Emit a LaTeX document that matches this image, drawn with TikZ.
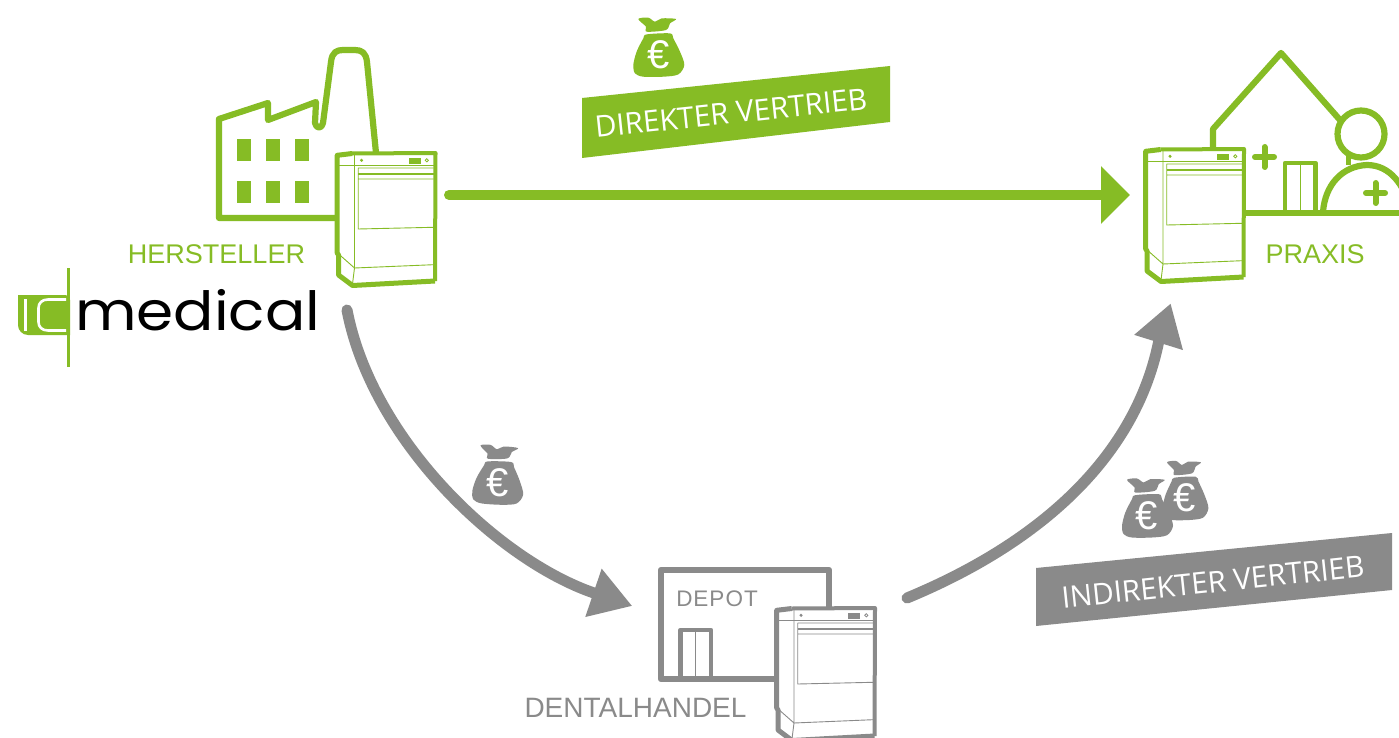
\documentclass[tikz,border=0pt]{standalone}
\usepackage{fontspec}
\setmainfont{Liberation Sans}
\newfontfamily\bannerfont{Open Sans}
\newfontfamily\logofont{Poppins}
\usetikzlibrary{arrows.meta,bending}
\definecolor{vgreen}{HTML}{86BC25}
\definecolor{vgray}{HTML}{8A8A8A}
\tikzset{
  x=1pt,y=-1pt,
  labeltext/.style={inner sep=0pt,font=\fontsize{27}{27}\selectfont},
  bannertext/.style={inner sep=0pt,text=white,font=\bannerfont\fontsize{29.7}{29.7}\selectfont},
  thick line/.style={line width=6.2pt,line join=round,line cap=round},
  door line/.style={line width=4.5pt,line join=round},
  flowgreen/.style={line width=10pt,line cap=round,vgreen,-{Triangle[length=29pt,width=56pt]}},
  flowgray/.style={line width=11pt,line cap=round,vgray,-{Triangle[length=41pt,width=48pt]}},
  pics/washer/.style={code={
    \path[fill=white] (1.7,7.3)--(16.7,5.5)--(100,5)--(99.5,133)--(17,137.5)--(3,127)--(2.5,105)--cycle;
    \draw[line width=.9pt] (2,17.5)--(99,17.5) (19,6)--(19,120) (2,105)--(19,120)--(98,116.7) (19,120)--(17,136);
    \draw[line width=.9pt] (22.7,20)--(22.7,81)--(98,79.3) (22.7,20)--(98,20) (22.7,31)--(98,31);
    \draw[line width=1.4pt] (22.7,26)--(98,26);
    \fill (73,10) rectangle (85,15.7);
    \fill (26,12.3) circle[radius=1.7];
    \draw[line width=.8pt] (91.3,12.3) circle[radius=1.6];
    \draw[line width=4pt,line join=round] (16.7,5.5)--(100,5)--(99.5,133);
    \draw[line width=5pt,line join=round] (99.5,133)--(17,137.5)--(3,127)--(3,107)--(1.7,105)--(1.7,7.3)--(16.7,5.5);
  }},
  pics/bag/.style={code={
    \fill plot[smooth cycle,tension=.5] coordinates {(-20,-27.7)(-10,-29)(-3.3,-25)(3.3,-28.3)(17.7,-27.7)(11.7,-23.3)(7.7,-16.7)(-11.7,-15)(-12.3,-20)};
    \fill plot[smooth cycle,tension=.5] coordinates {(-11.7,-12.3)(11.7,-13.3)(15,-8.3)(21.7,5)(26,18.3)(20,27.7)(5,30)(-15,30)(-23.3,26.7)(-25,18.3)(-21.7,5)(-15,-8.3)};
    \node[text=white,inner sep=0pt,font=\fontsize{40}{40}\selectfont] at (0,8) {€};
  }},
}
\begin{document}
\begin{tikzpicture}
\useasboundingbox (0,0) rectangle (1399,738);
\clip (0,0) rectangle (1399,738);
\fill[white] (0,0) rectangle (1399,738);

% factory
\begin{scope}[vgreen]
\draw[thick line] (337,218)--(219,218)--(219,119)--(268,103)--(268,120)--(316,102)--(315,123)
  .. controls (316,129) and (322,129) .. (323,123)
  -- (331,62) .. controls (332,52) and (337,50) .. (343,50) -- (355,50)
  .. controls (362,50) and (366,53) .. (367,62) -- (376,153);
\foreach \wx in {237,266,295}\foreach \wy in {139,181}
  \fill (\wx,\wy) rectangle ++(14,22);
\pic at (335.5,148) {washer};
\end{scope}
\node[labeltext,text=vgreen,anchor=center] (hersteller) at (216.5,254) {HERSTELLER};

% logo
\fill[vgreen] (18,295) -- (64,295) .. controls (68,295) and (70,297) .. (70,300) -- (70,335) -- (28,335)
  .. controls (22,335) and (18,330) .. (18,325) -- cycle;
\draw[white,line width=2.6pt] (25.7,299)--(25.7,331);
\draw[white,line width=2.6pt] (66,299.5)--(48,299.5) .. controls (42,299.5) and (38.5,303) .. (38.5,308)
  -- (38.5,322) .. controls (38.5,327) and (42,330.5) .. (48,330.5) -- (66,330.5);
\draw[vgreen,line width=2.6pt] (68.5,268)--(68.5,367);
\node[inner sep=0pt,anchor=base west,font=\logofont\fontsize{54}{54}\selectfont,xscale=1.107] (logo) at (75,330) {medical};

% practice
\begin{scope}[vgreen]
\draw[thick line] (1213,148)--(1213,129)--(1281,53)--(1340,120);
\draw[thick line] (1246,212.7)--(1399,212.7);
\draw[door line] (1285,212)--(1285,163)--(1315.5,163)--(1315.5,212);
\draw[line width=.9pt] (1300,165)--(1300,211);
\draw[line width=6pt,line cap=round] (1255,157)--(1274,157) (1264.5,147)--(1264.5,167);
\draw[line width=6.2pt] (1361,134) circle[radius=23.5];
\draw[line width=5pt] (1348,156)--(1348,165);
\draw[thick line] (1323,212) .. controls (1325,185) and (1342,166) .. (1367,165)
  .. controls (1390,165) and (1405,185) .. (1411,212);
\draw[line width=6pt,line cap=round] (1366,193)--(1385,193) (1375.5,183)--(1375.5,203);
\pic at (1144,144) {washer};
\end{scope}
\node[labeltext,text=vgreen] (praxis) at (1315,254) {PRAXIS};

% depot
\begin{scope}[vgray]
\draw[line width=6.5pt,line join=round] (661,570) rectangle (829,679);
\draw[door line] (680.5,679)--(680.5,630)--(711,630)--(711,679);
\draw[line width=.9pt] (695.5,632)--(695.5,678);
\pic at (775,603) {washer};
\end{scope}
\node[inner sep=0pt,text=vgray,font=\fontsize{22.5}{22.5}\selectfont] (depot) at (717,599) {D\kern1pt E\kern1pt P\kern1pt O\kern1pt T};
\node[labeltext,text=vgray,font=\fontsize{28}{28}\selectfont] (handel) at (635.5,708) {DENTALHANDEL};

% connectors
\coordinate (a1) at (449,195);
\coordinate (a2) at (1130,195);
\coordinate (b1) at (347,310);
\coordinate (bm) at (594,593);
\coordinate (b2) at (632.3,606);
\coordinate (c1) at (907,598);
\coordinate (cm) at (1158.5,342.5);
\coordinate (c2) at (1170.7,303.3);
\draw[flowgreen] (a1)--(a2);
\draw[flowgray] (b1) .. controls (372,440) and (498,560) .. (bm) -- (b2);
\draw[flowgray] (c1) .. controls (1035,545) and (1134,461) .. (cm) -- (c2);

% banners
\fill[vgreen] (582,98)--(890,66)--(890,122)--(582,158)--cycle;
\node[bannertext,rotate=6] (direct) at (731,113) {DIREKTER VERTRIEB};
\fill[vgray] (1036,568)--(1392,533)--(1392,590)--(1036,626)--cycle;
\node[bannertext,rotate=6] (indirect) at (1213,582) {INDIREKTER VERTRIEB};

% money bags
\pic[vgreen] at (658.3,46.7) {bag};
\pic[vgray,rotate=-4] at (498.5,474.5) {bag};
\pic[vgray,xscale=.9] at (1185,490) {bag};
\pic[vgray] at (1147,507.5) {bag};
\end{tikzpicture}
\end{document}
